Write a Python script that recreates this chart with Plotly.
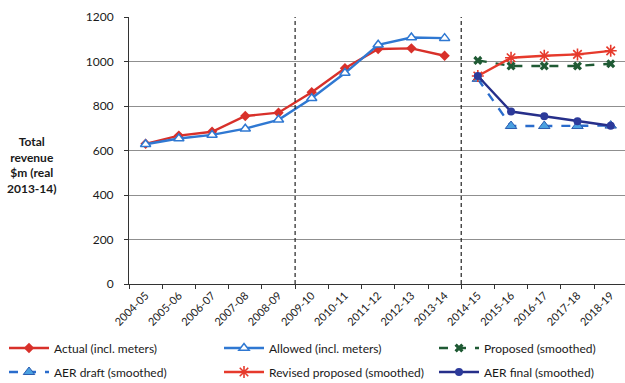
import plotly.graph_objects as go

# Financial years on the category axis
years = ["2004-05", "2005-06", "2006-07", "2007-08", "2008-09", "2009-10",
         "2010-11", "2011-12", "2012-13", "2013-14", "2014-15", "2015-16",
         "2016-17", "2017-18", "2018-19"]

# Total revenue, $m (real 2013-14)
actual = [630, 667, 684, 755, 770, 862, 970, 1056, 1059, 1026,
          None, None, None, None, None]
allowed = [628, 654, 670, 698, 738, 835, 948, 1075, 1108, 1105,
           None, None, None, None, None]
proposed = [None] * 10 + [1005, 980, 980, 980, 990]
aer_draft = [None] * 10 + [922, 710, 710, 710, 712]
revised_proposed = [None] * 10 + [935, 1017, 1026, 1032, 1048]
aer_final = [None] * 10 + [935, 775, 754, 731, 711]

# Period boundaries drawn as dashed verticals
period_starts = ["2009-10", "2014-15"]

y_ticks = [0, 200, 400, 600, 800, 1000, 1200]

FONT = "Lato"
TXT = "#1a1a1a"

series = [
    dict(name="Actual (incl. meters)", y=actual, color="#d8302a", dash="solid",
         marker=dict(symbol="diamond", size=8, color="#d8302a"), legend="legend"),
    dict(name="Allowed (incl. meters)", y=allowed, color="#2f78d2", dash="solid",
         marker=dict(symbol="triangle-up", size=9, color="white",
                     line=dict(color="#2f78d2", width=1.5)), legend="legend2"),
    dict(name="Proposed (smoothed)", y=proposed, color="#1f5a34", dash="dash",
         marker=dict(symbol="x", size=8, color="#1f5a34"), legend="legend3"),
    dict(name="AER draft (smoothed)", y=aer_draft, color="#2a6ccc", dash="dash",
         marker=dict(symbol="triangle-up", size=10, color="#4aa0e0",
                     line=dict(color="#2a5cb0", width=1)), legend="legend4"),
    dict(name="Revised proposed (smoothed)", y=revised_proposed, color="#e63a2c",
         dash="solid",
         marker=dict(symbol="asterisk-open", size=10,
                     line=dict(color="#e63a2c", width=1.6)), legend="legend5"),
    dict(name="AER final (smoothed)", y=aer_final, color="#262f8a", dash="solid",
         marker=dict(symbol="circle", size=8, color="#2c3a9a"), legend="legend6"),
]

fig = go.Figure()
for s in series:
    fig.add_trace(go.Scatter(
        x=years, y=s["y"], name=s["name"], mode="lines+markers",
        line=dict(color=s["color"], width=2.4, dash=s["dash"]),
        marker=s["marker"], legend=s["legend"], connectgaps=False,
    ))

# Dashed separators between regulatory periods
for yr in period_starts:
    xb = years.index(yr) - 0.5
    fig.add_shape(type="line", xref="x", yref="y", x0=xb, x1=xb, y0=0, y1=1200,
                  line=dict(color="#222222", width=1.2, dash="4px,3px"), layer="above")

# Legend placement: two rows of three entries
leg_pos = {
    "legend": (4, 348), "legend2": (219, 348), "legend3": (434, 348),
    "legend4": (4, 372), "legend5": (219, 372), "legend6": (434, 372),
}
legend_layout = {}
for key, (px, py) in leg_pos.items():
    legend_layout[key] = dict(
        xref="container", yref="container", x=px / 625, y=1 - py / 383,
        xanchor="left", yanchor="middle", orientation="h",
        bgcolor="rgba(0,0,0,0)", font=dict(family=FONT, size=12, color=TXT),
        itemwidth=40, tracegroupgap=0,
    )

fig.update_layout(
    width=625, height=383,
    margin=dict(l=129, r=0, t=17, b=99),
    paper_bgcolor="white", plot_bgcolor="white",
    font=dict(family=FONT, size=12, color=TXT),
    showlegend=True,
    **legend_layout,
)

fig.update_xaxes(
    type="category", categoryorder="array", categoryarray=years,
    range=[-0.5, 14.43], tickangle=-45, tickson="boundaries",
    ticks="outside", ticklen=4, tickcolor="#333", showline=True,
    linecolor="#333", linewidth=1, showgrid=False, zeroline=False,
    tickfont=dict(family=FONT, size=11, color=TXT),
)
fig.update_yaxes(
    range=[0, 1200], tickvals=y_ticks, ticks="outside", ticklen=4,
    tickcolor="#333", showline=True, linecolor="#333", linewidth=1,
    showgrid=True, gridcolor="#8f8f8f", gridwidth=1, zeroline=False,
    ticklabelstandoff=8,
    tickfont=dict(family=FONT, size=12, color=TXT),
)

fig.add_annotation(
    text="<b>Total<br>revenue<br>$m (real<br>2013-14)</b>",
    xref="paper", yref="paper", x=-0.195, y=0.446, xanchor="center",
    yanchor="middle", showarrow=False, align="center",
    font=dict(family=FONT, size=12, color=TXT),
)

fig.write_html("out.html")
